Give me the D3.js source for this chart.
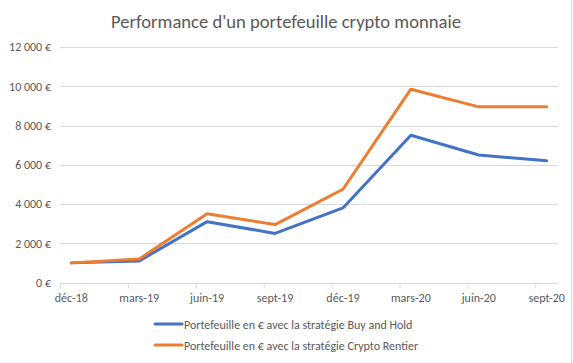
<!DOCTYPE html>
<html>
<head>
<meta charset="utf-8">
<script src="https://cdn.jsdelivr.net/npm/d3@7"></script>
<style>
  html, body { margin: 0; padding: 0; background: #fff; }
  svg { display: block; }
  text { font-family: Carlito, Calibri, "Liberation Sans Narrow", "Open Sans", sans-serif; fill: #595959; }
</style>
</head>
<body>
<script>
const categories = ["déc-18", "mars-19", "juin-19", "sept-19", "déc-19", "mars-20", "juin-20", "sept-20"];
const buyAndHold = [1000, 1100, 3100, 2500, 3800, 7500, 6500, 6200];
const cryptoRentier = [1000, 1200, 3500, 2950, 4750, 9850, 8950, 8950];
const seriesNames = [
  "Portefeuille en € avec la stratégie Buy and Hold",
  "Portefeuille en € avec la stratégie Crypto Rentier"
];
const seriesColors = ["#4472C4", "#ED7D31"];
const yTicks = [0, 2000, 4000, 6000, 8000, 10000, 12000];
const title = "Performance d'un portefeuille crypto monnaie";

const W = 573, H = 363;
const svg = d3.select("body").append("svg").attr("width", W).attr("height", H);

// Date axis with monthly base unit: 3 months between categories, 22 month units total
const monthsPerCat = 3;
const x = d3.scaleLinear().domain([0, categories.length * monthsPerCat - 2]).range([60, 558]);
const y = d3.scaleLinear().domain([0, 12000]).range([282.5, 47]);
const px = i => x(i * monthsPerCat + 0.5);

// chart border
svg.append("rect").attr("x", -2).attr("y", -2).attr("width", 573.5).attr("height", 370)
  .attr("fill", "none").attr("stroke", "#D9D9D9");

// title
svg.append("text").attr("x", 286).attr("y", 28).attr("text-anchor", "middle")
  .style("font-size", "18.6px").text(title);

// grid lines
const yAxis = d3.axisLeft(y).tickValues(yTicks)
  .tickFormat(d => d3.format(",")(d).replace(/,/g, "\u00a0") + "\u00a0€")
  .tickSize(0).tickPadding(9);
const gy = svg.append("g").attr("transform", "translate(60,0)").call(yAxis);
gy.select(".domain").remove();
gy.selectAll("text").style("font-size", "12px").attr("fill", "#595959");
svg.append("g").selectAll("line").data(yTicks.filter(d => d > 0)).join("line")
  .attr("x1", 60).attr("x2", 558)
  .attr("y1", d => Math.round(y(d)) + 0.5).attr("y2", d => Math.round(y(d)) + 0.5)
  .attr("stroke", "#D9D9D9").attr("stroke-width", 1);

// x axis
const xTickVals = d3.range(categories.length).map(i => i * monthsPerCat);
const xAxis = d3.axisBottom(x).tickValues(xTickVals).tickFormat("").tickSize(5).tickSizeOuter(0);
const gx = svg.append("g").attr("transform", `translate(0,${Math.round(y(0)) + 0.5})`).call(xAxis);
gx.select(".domain").attr("stroke", "#D9D9D9").attr("d", `M60,0H558`);
gx.selectAll(".tick line").attr("stroke", "#D9D9D9");
svg.append("g").selectAll("text").data(categories).join("text")
  .attr("x", (d, i) => px(i)).attr("y", 302).attr("text-anchor", "middle")
  .style("font-size", "12px").text(d => d);

// lines
const line = d3.line().x((d, i) => px(i)).y(d => y(d));
[buyAndHold, cryptoRentier].forEach((s, k) => {
  svg.append("path").datum(s).attr("d", line)
    .attr("fill", "none").attr("stroke", seriesColors[k]).attr("stroke-width", 3)
    .attr("stroke-linejoin", "round").attr("stroke-linecap", "round");
});

// legend
const lg = svg.append("g");
seriesNames.forEach((n, k) => {
  const ly = 324 + k * 21;
  lg.append("line").attr("x1", 155).attr("x2", 182).attr("y1", ly).attr("y2", ly)
    .attr("stroke", seriesColors[k]).attr("stroke-width", 3).attr("stroke-linecap", "round");
  lg.append("text").attr("x", 184).attr("y", ly + 4.5).style("font-size", "12px").text(n);
});
</script>
</body>
</html>
